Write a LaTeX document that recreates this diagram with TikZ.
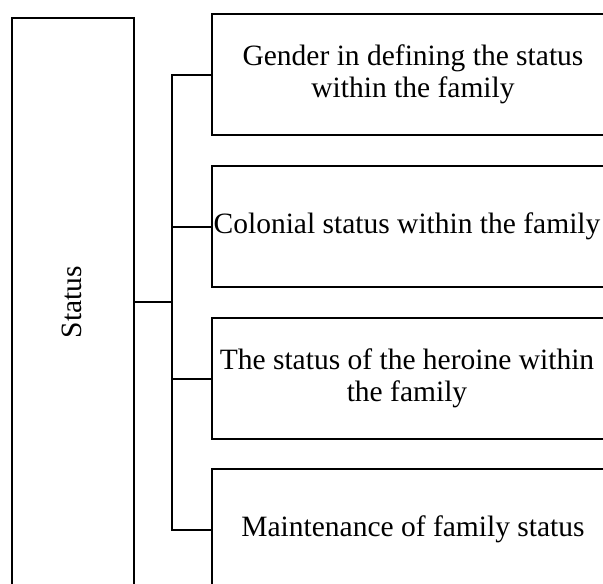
\documentclass[tikz,border=0pt]{standalone}
\usepackage{fontspec}
\setmainfont{Liberation Serif}
\begin{document}
\begin{tikzpicture}[x=1pt,y=-1pt,line width=2pt,
  box/.style={draw,rectangle,inner sep=0pt,minimum width=409pt,minimum height=121pt,anchor=north west},
  lbl/.style={align=center,inner sep=0pt,font=\fontsize{29.5}{32}\selectfont}]
\clip (0,0) rectangle (603,584);
\node[draw,rectangle,inner sep=0pt,minimum width=122pt,minimum height=583pt,anchor=north west] (status) at (11,17) {};
\node[lbl,rotate=90] (statustxt) at (72,302) {Status};
\node[box] (b1) at (211,13) {};
\node[box] (b2) at (211,165) {};
\node[box] (b3) at (211,317) {};
\node[box] (b4) at (211,468) {};
\node[lbl] (t1) at (413,74) {Gender in defining the status\\within the family};
\node[lbl] (t2) at (407,226) {Colonial status within the family};
\node[lbl] (t3) at (407,378) {The status of the heroine within\\the family};
\node[lbl] (t4) at (413,529) {Maintenance of family status};
\coordinate (j) at (172,302);
\draw (j -| status.east) -- (j);
\draw (b1.west) -- (b1.west -| j) -- (b4.west -| j) -- (b4.west);
\draw (b2.west) -- (b2.west -| j);
\draw (b3.west) -- (b3.west -| j);
\end{tikzpicture}
\end{document}
